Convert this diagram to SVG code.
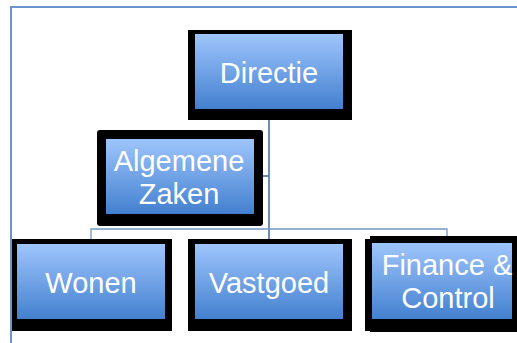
<svg xmlns="http://www.w3.org/2000/svg" width="517" height="343" viewBox="0 0 517 343">
  <defs>
    <linearGradient id="g" x1="0" y1="0" x2="0" y2="1">
      <stop offset="0" stop-color="#9ec5fc"/>
      <stop offset="1" stop-color="#4380cf"/>
    </linearGradient>
    <style>
      .blk { fill: #000; }
      .box { fill: url(#g); }
      .lbl { font-family: "Liberation Sans", Arial, sans-serif; font-size: 29px; fill: #fff; text-anchor: middle; }
      .c1 { stroke: #4a6fa5; stroke-width: 1.6; fill: none; }
      .c2 { stroke: #7398c6; stroke-width: 1.3; fill: none; }
    </style>
  </defs>
  <rect width="517" height="343" fill="#fff"/>
  <path d="M11,343 V7 H517" fill="none" stroke="#6c96cb" stroke-width="2"/>
  <g id="connectors">
    <path class="c1" d="M269,120 V239"/>
    <path class="c1" d="M263,176 H269"/>
    <path class="c2" d="M91,239 V229 H447 V236"/>
  </g>
  <g id="directie">
    <rect class="blk" x="188" y="30" width="164" height="90"/>
    <rect class="box" x="195" y="34" width="148" height="75"/>
    <text class="lbl" x="269" y="83">Directie</text>
  </g>
  <g id="algemene-zaken">
    <rect class="blk" x="97" y="130" width="166" height="96" rx="3"/>
    <rect class="box" x="106" y="139" width="148" height="75"/>
    <text class="lbl" x="179" y="171">Algemene</text>
    <text class="lbl" x="179" y="204">Zaken</text>
  </g>
  <g id="wonen">
    <rect class="blk" x="12" y="239" width="160" height="92"/>
    <rect class="box" x="17" y="244" width="148" height="75"/>
    <text class="lbl" x="91" y="293">Wonen</text>
  </g>
  <g id="vastgoed">
    <rect class="blk" x="188" y="239" width="164" height="92"/>
    <rect class="box" x="195" y="244" width="148" height="75"/>
    <text class="lbl" x="269" y="293">Vastgoed</text>
  </g>
  <g id="finance-control">
    <rect class="blk" x="365" y="239" width="152" height="92"/>
    <rect class="blk" x="370" y="236" width="147" height="96"/>
    <rect class="box" x="372" y="243" width="140" height="76"/>
    <text class="lbl" x="447" y="275">Finance &amp;</text>
    <text class="lbl" x="448" y="308">Control</text>
  </g>
</svg>
